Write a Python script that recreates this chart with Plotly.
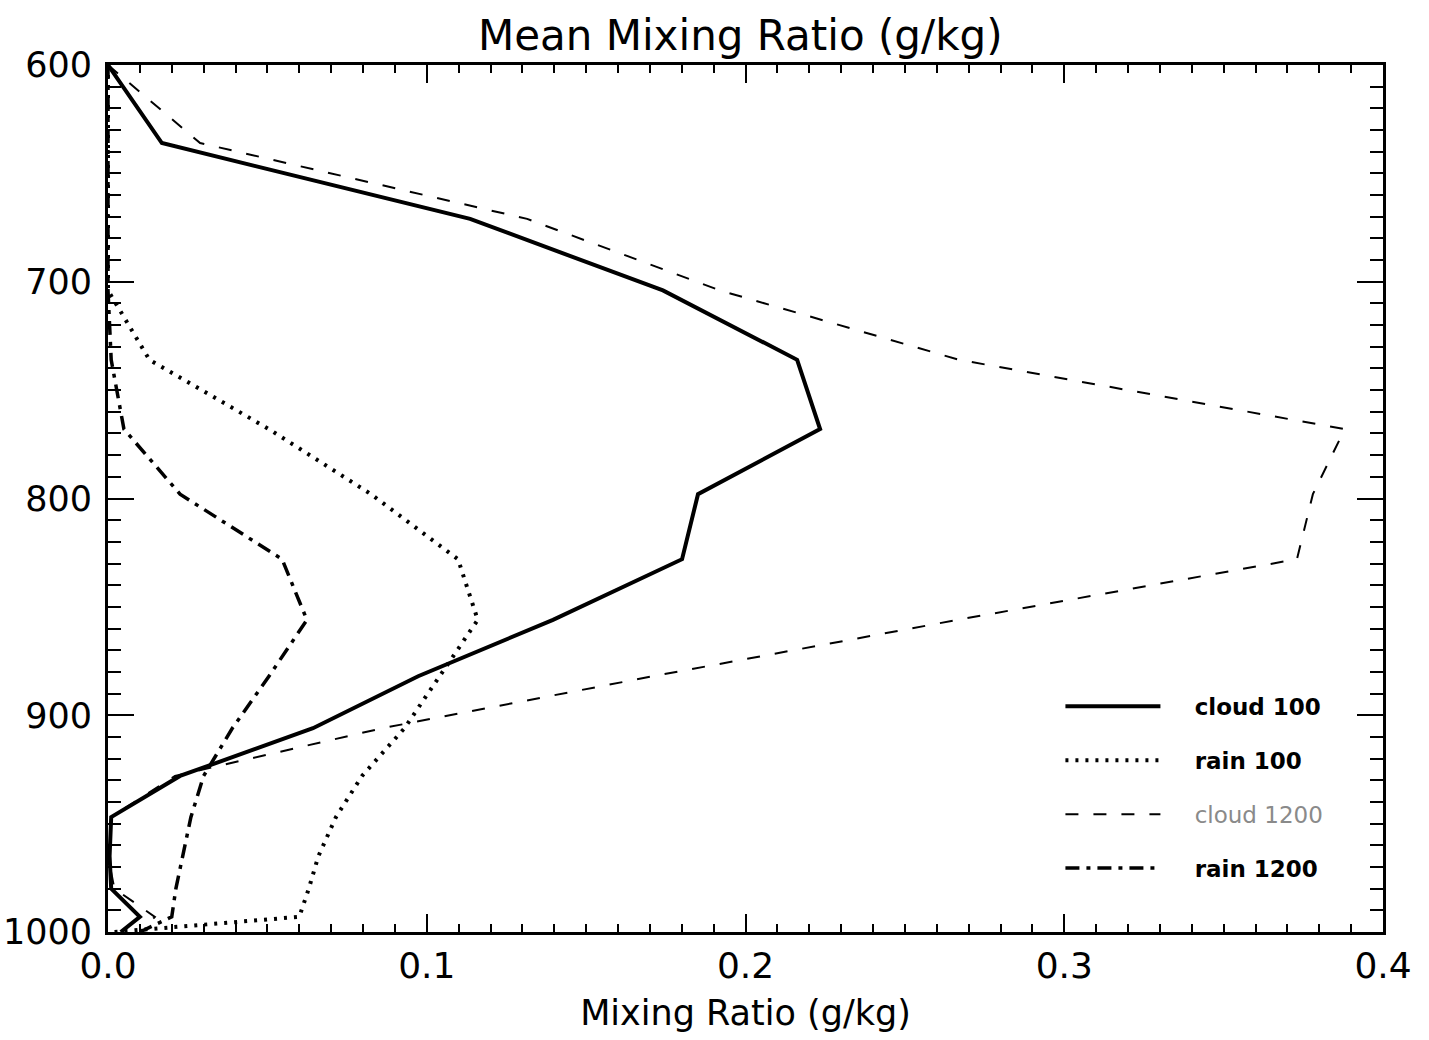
import plotly.graph_objects as go

# Pressure levels (hPa)
pressure = [600, 636, 671, 704, 736, 768, 798, 828, 856, 882, 906, 928, 947, 965, 980, 993, 1000]

# Mean mixing ratios (g/kg)
cloud_100 = [0.0, 0.0169, 0.1136, 0.1741, 0.2162, 0.2234, 0.1851, 0.1801, 0.1396, 0.0973,
             0.0643, 0.0226, 0.001, 0.0005, 0.001, 0.010, 0.004]
rain_100 = [0.0, 0.0, 0.0, 0.0, 0.013, 0.0505, 0.0825, 0.1098, 0.116, 0.104,
            0.093, 0.0797, 0.0715, 0.066, 0.063, 0.060, 0.002]
cloud_1200 = [0.0, 0.0289, 0.1315, 0.192, 0.267, 0.388, 0.378, 0.373, 0.2665, 0.171,
              0.086, 0.021, 0.001, 0.0, 0.002, 0.0147, 0.01]
rain_1200 = [0.0, 0.0, 0.0, 0.0, 0.001, 0.005, 0.0226, 0.0546, 0.0624, 0.0505,
             0.039, 0.030, 0.026, 0.0235, 0.0213, 0.020, 0.01]

x_ticks = [0.0, 0.1, 0.2, 0.3, 0.4]
x_tick_labels = ["0.0", "0.1", "0.2", "0.3", "0.4"]
y_ticks = [600, 700, 800, 900, 1000]
y_tick_labels = ["600", "700", "800", "900", "1000"]

FONT = "DejaVu Sans"
PAD = "&nbsp;&nbsp;&nbsp;&nbsp;"

fig = go.Figure()
fig.add_trace(go.Scatter(x=cloud_100, y=pressure, mode="lines", name=PAD + "<b>cloud 100</b>",
                         legendgroup="a", line=dict(color="black", width=4)))
fig.add_trace(go.Scatter(x=rain_100, y=pressure, mode="lines", name=PAD + "<b>rain 100</b>",
                         legendgroup="b", line=dict(color="black", width=4, dash="3px,7px")))
fig.add_trace(go.Scatter(x=cloud_1200, y=pressure, mode="lines",
                         name=PAD + "<span style='color:#8a8a8a'>cloud 1200</span>",
                         legendgroup="c", line=dict(color="black", width=2, dash="13px,15px")))
fig.add_trace(go.Scatter(x=rain_1200, y=pressure, mode="lines", name=PAD + "<b>rain 1200</b>",
                         legendgroup="d", line=dict(color="black", width=3.5, dash="14px,7px,4px,7px")))

fig.update_layout(
    width=1429, height=1040,
    margin=dict(l=108, r=46, t=65, b=108),
    paper_bgcolor="white", plot_bgcolor="white",
    font=dict(family=FONT, color="black"),
    title=dict(text="Mean Mixing Ratio (g/kg)", x=0.518, xanchor="center",
               y=0.966, yanchor="middle", font=dict(size=42, family=FONT)),
    showlegend=True,
    legend=dict(x=0.747, y=0.285, xanchor="left", yanchor="top",
                bgcolor="rgba(0,0,0,0)", borderwidth=0, itemwidth=95,
                tracegroupgap=21, font=dict(size=23, family=FONT)),
)

fig.update_xaxes(
    range=[0, 0.4], tickvals=x_ticks, ticktext=x_tick_labels, automargin=False,
    showgrid=False, zeroline=False, showline=True, linecolor="black", linewidth=3,
    mirror="ticks", ticks="inside", ticklen=18, tickwidth=2, tickcolor="black",
    minor=dict(ticks="inside", dtick=0.01, ticklen=8, tickwidth=2, tickcolor="black", showgrid=False),
    tickfont=dict(size=36, family=FONT),
    title=dict(text="Mixing Ratio (g/kg)", font=dict(size=35, family=FONT), standoff=16),
)
fig.update_yaxes(
    range=[1000, 600], tickvals=y_ticks, ticktext=y_tick_labels, automargin=False,
    showgrid=False, zeroline=False, showline=True, linecolor="black", linewidth=3,
    mirror="ticks", ticks="inside", ticklen=26, tickwidth=2, tickcolor="black",
    minor=dict(ticks="inside", dtick=10, ticklen=13, tickwidth=2, tickcolor="black", showgrid=False),
    tickfont=dict(size=35, family=FONT), ticklabelstandoff=6,
)

fig.write_html("out.html")
